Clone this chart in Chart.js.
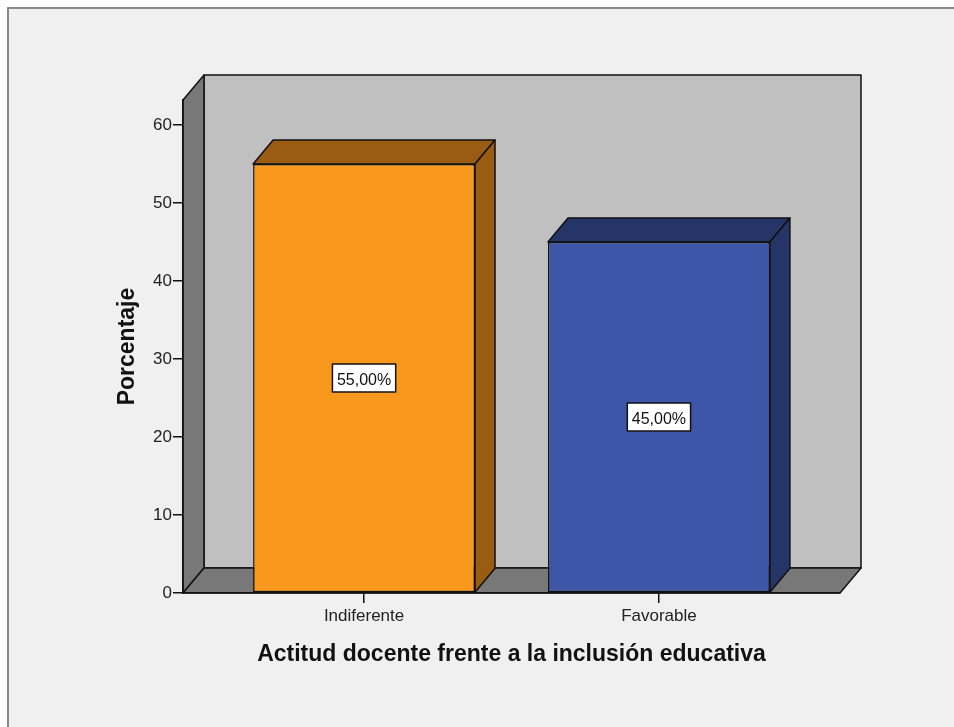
<!DOCTYPE html>
<html>
<head>
<meta charset="utf-8">
<script src="https://cdn.jsdelivr.net/npm/chart.js@4.4.1/dist/chart.umd.min.js"></script>
<style>
  html, body { margin: 0; padding: 0; background: #ffffff; }
  canvas { display: block; }
</style>
</head>
<body>
<canvas id="myChart" width="954" height="727"></canvas>
<script>
const categorias = ['Indiferente', 'Favorable'];
const porcentajes = [55, 45];
const coloresFrente = ['#f8981d', '#3d56a8'];
const coloresCara = ['#9a5b13', '#263567'];
const yMax = 63.2;

const fuente = '"Liberation Sans", Arial, sans-serif';

// fondo gris, paredes y piso en 3D (estilo SPSS)
const fondo3d = {
    id: 'fondo3d',
    beforeDraw(chart) {
        const ctx = chart.ctx;
        const a = chart.chartArea;
        const dx = 21, dy = 25;
        ctx.save();
        ctx.fillStyle = '#ffffff';
        ctx.fillRect(0, 0, chart.width, chart.height);
        ctx.fillStyle = '#f0f0f0';
        ctx.fillRect(8, 8, chart.width, chart.height);
        ctx.strokeStyle = '#8a8a8a';
        ctx.lineWidth = 2;
        ctx.beginPath();
        ctx.moveTo(8, chart.height);
        ctx.lineTo(8, 8);
        ctx.lineTo(chart.width, 8);
        ctx.stroke();

        ctx.strokeStyle = '#111';
        ctx.lineWidth = 1.5;
        ctx.lineJoin = 'round';
        // pared del fondo
        ctx.fillStyle = '#c0c0c0';
        ctx.beginPath();
        ctx.rect(a.left + dx, a.top - dy, a.right - a.left, a.bottom - a.top);
        ctx.fill();
        ctx.stroke();
        // pared izquierda
        ctx.fillStyle = '#787878';
        ctx.beginPath();
        ctx.moveTo(a.left, a.top);
        ctx.lineTo(a.left + dx, a.top - dy);
        ctx.lineTo(a.left + dx, a.bottom - dy);
        ctx.lineTo(a.left, a.bottom);
        ctx.closePath();
        ctx.fill();
        ctx.stroke();
        // piso
        ctx.beginPath();
        ctx.moveTo(a.left, a.bottom);
        ctx.lineTo(a.right, a.bottom);
        ctx.lineTo(a.right + dx, a.bottom - dy);
        ctx.lineTo(a.left + dx, a.bottom - dy);
        ctx.closePath();
        ctx.fill();
        ctx.stroke();
        ctx.restore();
    }
};

// caras superior y lateral de cada barra + etiqueta de porcentaje
const caras3d = {
    id: 'caras3d',
    afterDatasetsDraw(chart) {
        const ctx = chart.ctx;
        const meta = chart.getDatasetMeta(0);
        const dx = 20, dy = 24;
        ctx.save();
        ctx.strokeStyle = '#111';
        ctx.lineWidth = 1.5;
        ctx.lineJoin = 'round';
        meta.data.forEach(function(bar, i) {
            const p = bar.getProps(['x', 'y', 'base', 'width'], true);
            const l = p.x - p.width / 2;
            const r = p.x + p.width / 2;
            ctx.fillStyle = coloresCara[i];
            // cara superior
            ctx.beginPath();
            ctx.moveTo(l, p.y);
            ctx.lineTo(l + dx, p.y - dy);
            ctx.lineTo(r + dx, p.y - dy);
            ctx.lineTo(r, p.y);
            ctx.closePath();
            ctx.fill();
            ctx.stroke();
            // cara lateral
            ctx.beginPath();
            ctx.moveTo(r, p.y);
            ctx.lineTo(r + dx, p.y - dy);
            ctx.lineTo(r + dx, p.base - dy);
            ctx.lineTo(r, p.base);
            ctx.closePath();
            ctx.fill();
            ctx.stroke();

            // etiqueta
            const texto = porcentajes[i].toFixed(2).replace('.', ',') + '%';
            ctx.font = '16px ' + fuente;
            const w = ctx.measureText(texto).width + 9;
            const h = 28;
            const cy = (p.y + p.base) / 2;
            ctx.fillStyle = '#ffffff';
            ctx.fillRect(p.x - w / 2, cy - h / 2, w, h);
            ctx.lineWidth = 1.5;
            ctx.strokeRect(p.x - w / 2, cy - h / 2, w, h);
            ctx.fillStyle = '#111';
            ctx.textAlign = 'center';
            ctx.textBaseline = 'middle';
            ctx.fillText(texto, p.x, cy + 2);
        });
        ctx.restore();
    }
};

const ctx = document.getElementById('myChart').getContext('2d');
new Chart(ctx, {
    type: 'bar',
    data: {
        datasets: [{
            data: porcentajes.map(function(v, i) { return { x: i, y: v }; }),
            backgroundColor: coloresFrente,
            borderColor: '#111',
            borderWidth: 1.5,
            borderSkipped: false,
            barPercentage: 0.7525,
            categoryPercentage: 1
        }]
    },
    options: {
        responsive: false,
        animation: false,
        layout: { padding: { top: 100, right: 114, left: 0, bottom: 0 } },
        plugins: {
            legend: { display: false },
            tooltip: { enabled: false }
        },
        scales: {
            x: {
                type: 'linear',
                min: -0.614,
                max: 1.614,
                offset: false,
                afterBuildTicks: function(scale) {
                    scale.ticks = categorias.map(function(c, i) { return { value: i }; });
                },
                afterFit: function(scale) { scale.height = 134; },
                ticks: {
                    callback: function(v) { return categorias[v]; },
                    font: { family: fuente, size: 17 },
                    color: '#222',
                    padding: 3,
                    autoSkip: false,
                    maxRotation: 0
                },
                grid: { offset: false, drawOnChartArea: false, tickLength: 10, color: '#111', lineWidth: 1.5 },
                border: { display: true, color: '#111', width: 1.5 },
                title: {
                    display: true,
                    text: 'Actitud docente frente a la inclusión educativa',
                    font: { family: fuente, size: 23, weight: 'bold' },
                    color: '#111',
                    padding: { top: 0, bottom: 59 }
                }
            },
            y: {
                min: 0,
                max: yMax,
                afterFit: function(scale) { scale.width = 183; },
                ticks: {
                    stepSize: 10,
                    includeBounds: false,
                    font: { family: fuente, size: 17 },
                    color: '#222',
                    padding: 1
                },
                grid: { drawOnChartArea: false, tickLength: 10, color: '#111', lineWidth: 1.5 },
                border: { display: true, color: '#111', width: 1.5 },
                title: {
                    display: true,
                    text: 'Porcentaje',
                    font: { family: fuente, size: 23, weight: 'bold' },
                    color: '#111',
                    padding: { top: 114, bottom: 0 }
                }
            }
        }
    },
    plugins: [fondo3d, caras3d]
});
</script>
</body>
</html>
